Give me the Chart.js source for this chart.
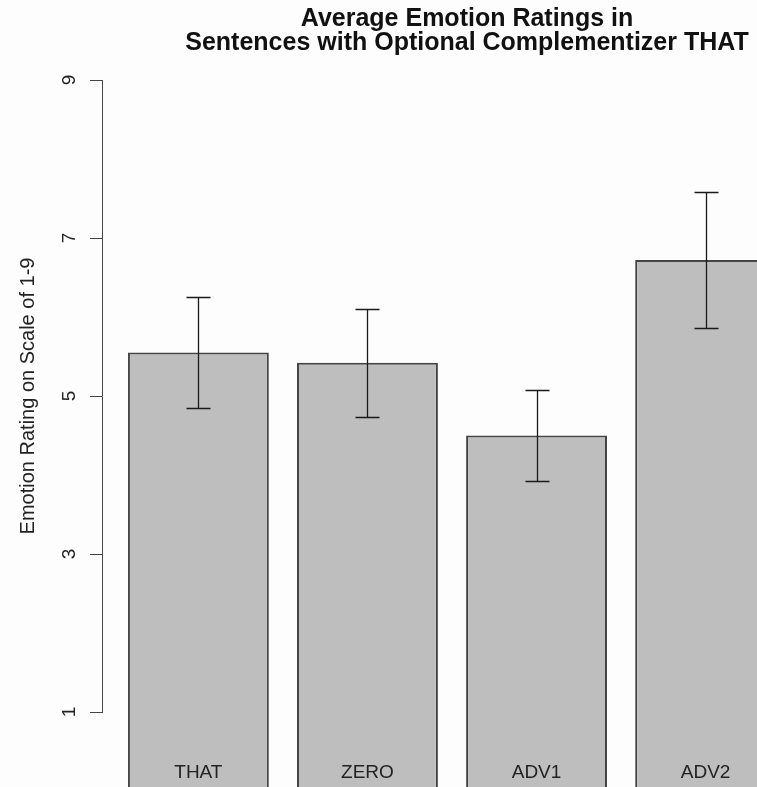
<!DOCTYPE html>
<html>
<head>
<meta charset="utf-8">
<script src="https://cdn.jsdelivr.net/npm/chart.js@4.4.0/dist/chart.umd.min.js"></script>
<style>
  html, body { margin: 0; padding: 0; background: #fdfdfd; overflow: hidden; width: 757px; height: 787px; }
  #wrap { position: absolute; left: 0; top: 0; width: 810px; height: 800px; }
</style>
</head>
<body>
<div id="wrap"><canvas id="c" width="810" height="800"></canvas></div>
<script>
// ---- data ----
const categories = ['THAT', 'ZERO', 'ADV1', 'ADV2'];
const meanRatings = [5.55, 5.42, 4.50, 6.72];
const stdErrors = [0.70, 0.68, 0.58, 0.86];
const yTicks = [1, 3, 5, 7, 9];
const titleLines = ['Average Emotion Ratings in', 'Sentences with Optional Complementizer THAT'];
const yAxisTitle = 'Emotion Rating on Scale of 1-9';

// R barplot layout rule: bars of width 1 separated by space 0.2
const BAR_W = 1, SPACE = 0.2;
const barCenters = categories.map((_, i) => SPACE + i * (BAR_W + SPACE) + BAR_W / 2);
const xLo = SPACE, xHi = categories.length * (BAR_W + SPACE);
const xPad = 0.04 * (xHi - xLo);

const FONT = "'Liberation Sans', Arial, Helvetica, sans-serif";
const TEXT = '#222222';

// layout constants for the two-line main title
const TITLE_CENTER_X = 467, TITLE_FIRST_Y = 19, TITLE_LINE_H = 24;

const mainTitle = {
  id: 'mainTitle',
  afterDraw(chart) {
    const ctx = chart.ctx;
    ctx.save();
    ctx.fillStyle = '#111111';
    ctx.font = "bold 25px " + FONT;
    ctx.textAlign = 'center';
    ctx.textBaseline = 'middle';
    titleLines.forEach((t, i) => ctx.fillText(t, TITLE_CENTER_X, TITLE_FIRST_Y + i * TITLE_LINE_H));
    ctx.restore();
  }
};

const errorBars = {
  id: 'errorBars',
  afterDatasetsDraw(chart) {
    const { ctx, scales: { x, y } } = chart;
    ctx.save();
    ctx.strokeStyle = '#1a1a1a';
    ctx.lineWidth = 1.3;
    meanRatings.forEach((m, i) => {
      const px = Math.round(x.getPixelForValue(barCenters[i])) + 0.5;
      const top = Math.round(y.getPixelForValue(m + stdErrors[i])) + 0.5;
      const bot = Math.round(y.getPixelForValue(m - stdErrors[i])) + 0.5;
      ctx.beginPath();
      ctx.moveTo(px, top); ctx.lineTo(px, bot);
      ctx.moveTo(px - 12, top); ctx.lineTo(px + 12, top);
      ctx.moveTo(px - 12, bot); ctx.lineTo(px + 12, bot);
      ctx.stroke();
    });
    ctx.restore();
  }
};

new Chart(document.getElementById('c'), {
  type: 'bar',
  data: {
    datasets: [{
      data: barCenters.map((x, i) => ({ x: x, y: meanRatings[i] })),
      base: 0,
      backgroundColor: '#bebebe',
      borderColor: '#444444',
      borderWidth: 2,
      categoryPercentage: 1,
      barPercentage: BAR_W / (BAR_W + SPACE),
      clip: false
    }]
  },
  options: {
    responsive: false,
    animation: false,
    devicePixelRatio: 1,
    layout: { padding: { left: 0, right: 8, top: 80, bottom: 0 } },
    plugins: {
      legend: { display: false },
      tooltip: { enabled: false },
      title: { display: false }
    },
    scales: {
      x: {
        type: 'linear',
        min: xLo - xPad,
        max: xHi + xPad,
        offset: false,
        afterBuildTicks: s => { s.ticks = barCenters.map(v => ({ value: v })); },
        afterFit: s => { s.height = 88; },
        grid: { display: false, drawTicks: false },
        border: { display: false },
        ticks: {
          autoSkip: false, maxRotation: 0, minRotation: 0, padding: 49, z: 1,
          color: TEXT, font: { family: FONT, size: 19 },
          callback: (v, i) => categories[i]
        }
      },
      y: {
        type: 'linear',
        min: yTicks[0],
        max: yTicks[yTicks.length - 1],
        afterBuildTicks: s => { s.ticks = yTicks.map(v => ({ value: v })); },
        afterFit: s => { s.width = 102; },
        grid: { display: true, drawOnChartArea: false, drawTicks: true, tickLength: 12, color: '#444444', lineWidth: 1 },
        border: { display: true, color: '#444444', width: 1 },
        ticks: {
          minRotation: 90, maxRotation: 90, crossAlign: 'center', padding: 15,
          color: TEXT, font: { family: FONT, size: 19 }
        },
        title: {
          display: true, text: yAxisTitle, color: TEXT,
          font: { family: FONT, size: 20 },
          padding: { top: 16, bottom: 0 }
        }
      }
    }
  },
  plugins: [errorBars, mainTitle]
});
</script>
</body>
</html>
